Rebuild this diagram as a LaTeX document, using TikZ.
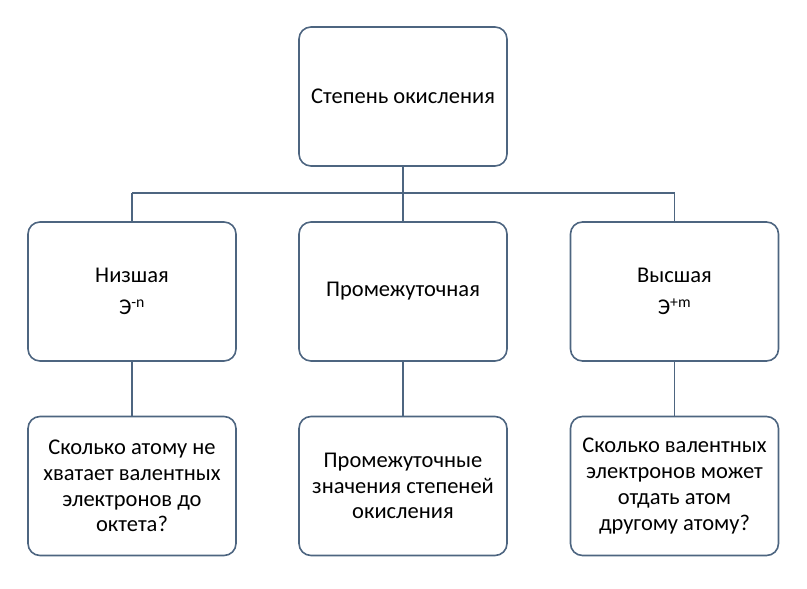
\documentclass[tikz,border=0pt]{standalone}
\usepackage{fontspec}
\setmainfont{Carlito}
\usetikzlibrary{calc}
\tikzset{
  blk/.style={draw=edge,line width=1.6bp,rounded corners=12bp,minimum width=208bp,minimum height=139bp,align=center,inner sep=0pt,font=\fontsize{22.5bp}{25.7bp}\selectfont},
  wire/.style={draw=edge,line width=1.6bp}
}
\definecolor{edge}{HTML}{4D6580}
\begin{document}
\begin{tikzpicture}[x=1bp,y=-1bp]
\useasboundingbox (0,0) rectangle (807,589);
\node[blk] (top) at (403,96.5) {Степень окисления};
\node[blk] (low) at (132,291.5) {Низшая\\[7bp]Э\textsuperscript{-n}};
\node[blk] (mid) at (403,291.5) {Промежуточная};
\node[blk] (high) at (674.5,291.5) {Высшая\\[7bp]Э\textsuperscript{+m}};
\node[blk] (lowq) at (132,486) {Сколько атому не\\хватает валентных\\электронов до\\октета?};
\node[blk] (midq) at (403,486) {Промежуточные\\значения степеней\\окисления};
\node[blk] (highq) at (674.5,486) {Сколько валентных\\электронов может\\отдать атом\\другому атому?};
\coordinate (bus) at (403,193);
\draw[wire] (top.south) -- (bus);
\foreach \n in {low,mid,high} {
	\draw[wire] (bus -| \n.north) -- (\n.north);
	\draw[wire] (\n.south) -- (\n q.north);
}
\draw[wire] (bus -| low.north) -- (bus -| high.north);
\end{tikzpicture}
\end{document}
